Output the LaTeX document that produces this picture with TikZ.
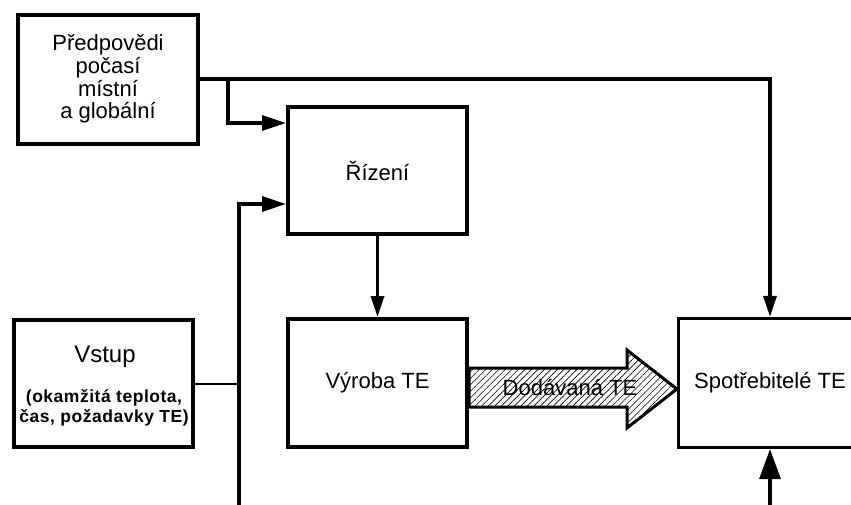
\documentclass[tikz,border=0pt]{standalone}
\usepackage{fontspec}
\setmainfont{Liberation Sans}
\usetikzlibrary{arrows.meta,patterns.meta,calc}
\begin{document}
\begin{tikzpicture}[x=1pt,y=-1pt,
  box/.style={draw,line width=4pt,inner sep=0pt,align=center,
    font=\fontsize{22}{22.6}\selectfont},
  conn/.style={line width=3.3pt},
  thinconn/.style={line width=2pt},
  tipa/.style={-{Triangle[length=24pt,width=15pt]}},
  tipb/.style={-{Triangle[length=21pt,width=13pt]}},
  tipc/.style={-{Triangle[length=30pt,width=21pt]}},
  lbl/.style={inner sep=0pt,font=\fontsize{22}{22.6}\selectfont}
]
\useasboundingbox (0,0) rectangle (851,504);
\clip (0,0) rectangle (851,504);

\node[box,minimum width=180pt,minimum height=129pt] (pred) at (108,79)
  {Předpovědi\\počasí\\místní\\a globální};
\node[box,minimum width=179pt,minimum height=127pt] (riz) at (377.5,170.5) {Řízení};
\node[box,minimum width=179pt,minimum height=128pt] (vyr) at (377.5,383) {Výroba TE};
\node[box,minimum width=179pt,minimum height=127pt] (vstup) at (103.5,383.5) {};
\node[inner sep=0pt,anchor=base,font=\fontsize{24}{24}\selectfont] (vstuptitle) at (105,362) {Vstup};
\node[inner sep=0pt,align=center,font=\bfseries\fontsize{17.5}{20}\selectfont\addfontfeature{LetterSpace=3}] (vstupnote) at (104,408)
  {(okamžitá teplota,\\čas, požadavky TE)};
\node[box,line width=3.3pt,minimum width=183pt,minimum height=129pt] (spot) at (770,383) {Spotřebitelé TE};

% hatched arrow
\draw[line width=3pt,line join=miter,
  pattern={Lines[angle=45,distance=4.6pt,line width=0.6pt]}]
  (vyr.east |- 0,368) -- (627,368) -- (627,350) -- (spot.west |- 0,389)
  -- (627,428) -- (627,407) -- (vyr.east |- 0,407) -- cycle;
\node[lbl] (dod) at (570,387) {Dodávaná TE};

% connectors
\draw[conn,tipb] (pred.east) -| (spot.north);
\coordinate (j1) at ($(pred.east)+(28,0)$);
\draw[conn,tipa] (j1) |- ($(riz.west)+(0,-47.5)$);
\coordinate (vb) at (239,510);
\draw[conn,tipa] (vb) |- ($(riz.west)+(0,33.5)$);
\draw[thinconn] (vstup.east) -- (vstup.east -| vb);
\draw[conn,tipb] (riz.south) -- (vyr.north);
\coordinate (sb) at (770,510);
\draw[conn,tipc] (sb) -- (spot.south);
\end{tikzpicture}
\end{document}
